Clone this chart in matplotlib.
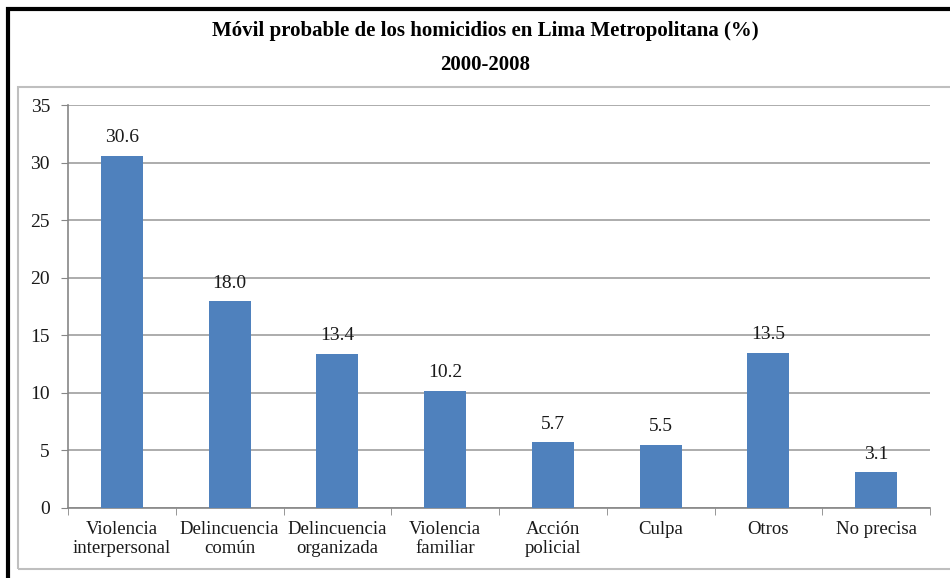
import matplotlib.pyplot as plt
import matplotlib.patches as patches
import numpy as np

## Data
categories = ["Violencia\ninterpersonal", "Delincuencia\ncomún", "Delincuencia\norganizada",
              "Violencia\nfamiliar", "Acción\npolicial", "Culpa", "Otros", "No precisa"]
values = [30.6, 18.0, 13.4, 10.2, 5.7, 5.5, 13.5, 3.1]
yticks = [0, 5, 10, 15, 20, 25, 30, 35]

plt.rcParams['font.family'] = ['Liberation Serif', 'DejaVu Serif']

W, H = 950, 578
fig = plt.figure(figsize=(9.5, 5.78), dpi=100)

# outer black frame and inner grey chart box (pixel coords -> figure coords)
def px(x, y):
    return x / W, 1 - y / H

x0, y0 = px(8, 9)
fig.patches.append(patches.Rectangle((x0, -0.1), 1.2, y0 + 0.1, transform=fig.transFigure,
                                     fill=False, edgecolor='black', linewidth=3))
x1, y1 = px(18, 87)
_, y2 = px(18, 569)
fig.patches.append(patches.Rectangle((x1, y2), 1.2, y1 - y2, transform=fig.transFigure,
                                     fill=False, edgecolor='#BFBFBF', linewidth=1.5))

# title
fig.text(485 / W, 1 - 31 / H, "Móvil probable de los homicidios en Lima Metropolitana (%)",
         ha='center', va='center', fontsize=15, fontweight='bold')
fig.text(485 / W, 1 - 65 / H, "2000-2008", ha='center', va='center', fontsize=15, fontweight='bold')

ax = fig.add_axes([68 / W, 1 - 508 / H, (930 - 68) / W, (508 - 105) / H])
x = np.arange(len(categories))
bars = ax.bar(x, values, width=0.39, color='#4F81BD', zorder=3)

for xi, v in zip(x, values):
    ax.text(xi, v + 0.8, f"{v:.1f}", ha='center', va='bottom', fontsize=14, color='#1a1a1a')

ax.set_xlim(-0.5, len(categories) - 0.5)
ax.set_ylim(0, 35)
ax.set_yticks(yticks)
ax.set_yticklabels([str(t) for t in yticks], fontsize=14, color='#1a1a1a')
ax.yaxis.grid(True, color='#A6A6A6', linewidth=1.3, zorder=0)

# category labels centered, ticks at the boundaries
ax.set_xticks(x)
ax.set_xticklabels(categories, fontsize=13.5, color='#1a1a1a', linespacing=1.2)
ax.tick_params(axis='x', length=0, pad=9)
ax.set_xticks(np.arange(len(categories) + 1) - 0.5, minor=True)
ax.tick_params(axis='x', which='minor', length=5, color='#868686', direction='out')
ax.tick_params(axis='y', length=5, color='#868686', direction='out', pad=8)

for s in ['top', 'right']:
    ax.spines[s].set_visible(False)
for s in ['left', 'bottom']:
    ax.spines[s].set_color('#868686')
    ax.spines[s].set_linewidth(1.2)

fig.savefig("out.png", dpi=100)
